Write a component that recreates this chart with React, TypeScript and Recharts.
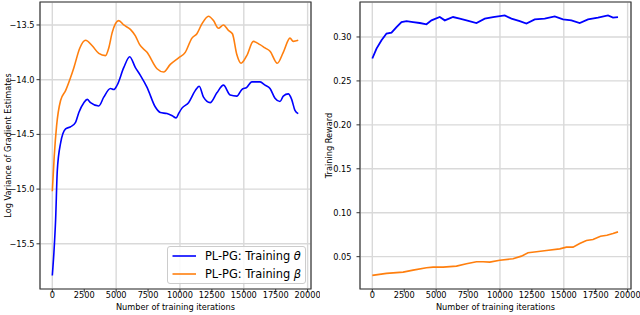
import React from 'react';
import { LineChart, Line, XAxis, YAxis, CartesianGrid, ReferenceArea } from 'recharts';

// left panel: log variance of gradient estimates
const thetaIters = [0, 125, 258, 391, 648, 1039, 1430, 1820, 2078, 2469, 2734, 2992, 3641, 4031, 4555, 4813, 5078, 5594, 6063, 6508, 6898, 7422, 8070, 8461, 8984, 9400, 9700, 9891, 10156, 10672, 11195, 11508, 11844, 12367, 12891, 13406, 13930, 14453, 14844, 15234, 15625, 16273, 16664, 17055, 17445, 17836, 18094, 18484, 18750, 19008, 19266];
const thetaVar = [-15.79, -15.58, -15.28, -14.83, -14.58, -14.45, -14.43, -14.39, -14.30, -14.21, -14.18, -14.21, -14.24, -14.16, -14.08, -14.09, -14.05, -13.89, -13.79, -13.89, -13.96, -14.07, -14.25, -14.30, -14.31, -14.33, -14.35, -14.31, -14.26, -14.21, -14.10, -14.06, -14.16, -14.21, -14.12, -14.05, -14.14, -14.15, -14.09, -14.07, -14.02, -14.02, -14.05, -14.08, -14.17, -14.20, -14.15, -14.13, -14.18, -14.28, -14.31];

const betaIters = [0, 150, 336, 648, 1039, 1430, 1688, 2156, 2602, 3125, 3640, 4164, 4422, 4688, 5203, 5594, 6117, 6508, 6844, 7422, 8203, 8719, 9242, 9891, 10414, 10938, 11328, 11719, 12234, 12625, 13016, 13406, 13797, 14109, 14453, 14789, 15234, 15750, 16273, 16664, 17055, 17625, 18094, 18617, 18875, 19266];
const betaVar = [-15.02, -14.70, -14.42, -14.19, -14.10, -13.98, -13.89, -13.71, -13.64, -13.69, -13.76, -13.78, -13.71, -13.57, -13.46, -13.50, -13.54, -13.60, -13.68, -13.75, -13.90, -13.93, -13.86, -13.80, -13.75, -13.62, -13.58, -13.49, -13.42, -13.46, -13.53, -13.50, -13.55, -13.58, -13.77, -13.85, -13.78, -13.65, -13.68, -13.71, -13.74, -13.85, -13.75, -13.62, -13.65, -13.64];

// right panel: training reward
const thetaRewIters = [0, 329, 720, 1112, 1503, 1895, 2286, 2678, 3195, 3719, 4244, 4635, 5285, 5677, 6327, 6851, 7376, 8159, 8810, 9459, 10375, 10899, 11549, 12074, 12724, 13507, 14290, 14940, 15597, 16247, 16897, 17680, 18463, 18855, 19246];
const thetaReward = [0.2755, 0.2868, 0.2963, 0.3039, 0.3050, 0.3113, 0.3170, 0.3181, 0.3170, 0.3159, 0.3144, 0.3189, 0.3227, 0.3189, 0.3227, 0.3209, 0.3189, 0.3159, 0.3209, 0.3227, 0.3246, 0.3209, 0.3181, 0.3152, 0.3200, 0.3209, 0.3235, 0.3200, 0.3189, 0.3159, 0.3200, 0.3220, 0.3246, 0.3220, 0.3227];

const betaRewIters = [0, 1112, 2412, 3195, 4244, 4760, 5544, 6593, 7376, 8159, 8676, 9200, 9983, 11025, 11682, 12199, 12857, 13640, 14681, 15206, 15722, 16247, 16771, 17288, 17876, 18377, 18855, 19246];
const betaReward = [0.0287, 0.0310, 0.0324, 0.0347, 0.0374, 0.0381, 0.0381, 0.0392, 0.0419, 0.0442, 0.0442, 0.0438, 0.0460, 0.0476, 0.0506, 0.0544, 0.0555, 0.0570, 0.0589, 0.0608, 0.0608, 0.0650, 0.0684, 0.0695, 0.0732, 0.0744, 0.0763, 0.0782];

const xTicks = [0, 2500, 5000, 7500, 10000, 12500, 15000, 17500, 20000];
const varTicks = [-15.5, -15.0, -14.5, -14.0, -13.5];
const rewardTicks = [0.05, 0.1, 0.15, 0.2, 0.25, 0.3];

const X_DOMAIN: [number, number] = [-965, 20265];
const VAR_DOMAIN: [number, number] = [-15.913, -13.29];
const REW_DOMAIN: [number, number] = [0.0132, 0.3398];

const toPoints = (xs: number[], ys: number[]) => xs.map((x, i) => ({ x, y: ys[i] }));

const FONT = '"DejaVu Sans", sans-serif';
const tickStyle = { fontSize: 8.2, fill: '#000', fontFamily: FONT };

function Panel({ series, yDomain, yTicks, yFormat, yLabel, yLabelOffset, yTickMargin }: any) {
  return (
    <LineChart width={320} height={315} margin={{ top: 2, right: 9, bottom: 0, left: 2 }}>
      <CartesianGrid stroke="#d9d9d9" strokeWidth={1.4} />
      <XAxis
        type="number"
        dataKey="x"
        domain={X_DOMAIN}
        ticks={xTicks}
        allowDataOverflow
        axisLine={false}
        tickSize={3.5}
        tickMargin={0}
        tickLine={{ stroke: '#333' }}
        tick={tickStyle}
        height={26}
        label={{ value: 'Number of training iterations', position: 'insideBottom', offset: 5, fontSize: 8.2, fill: '#000', fontFamily: FONT }}
      />
      <YAxis
        type="number"
        domain={yDomain}
        ticks={yTicks}
        allowDataOverflow
        axisLine={false}
        tickSize={3.5}
        tickMargin={yTickMargin}
        tickLine={{ stroke: '#333' }}
        tick={tickStyle}
        tickFormatter={yFormat}
        width={38}
        label={{ value: yLabel, angle: -90, position: 'insideLeft', offset: yLabelOffset, style: { textAnchor: 'middle' }, fontSize: 8.2, fill: '#000', fontFamily: FONT }}
      />
      {series.map((s: any) => (
        <Line
          key={s.name}
          data={s.data}
          dataKey="y"
          name={s.name}
          type={s.curve}
          stroke={s.color}
          strokeWidth={s.width}
          dot={false}
          isAnimationActive={false}
        />
      ))}
      <ReferenceArea x1={X_DOMAIN[0]} x2={X_DOMAIN[1]} y1={yDomain[0]} y2={yDomain[1]} fill="none" stroke="#3a3a3a" strokeWidth={1.2} />
    </LineChart>
  );
}

const legendRow = (color: string, label: string, sym: string, top: number) => (
  <div style={{ position: 'absolute', left: 0, top, height: 18, width: '100%' }}>
    <svg width={30} height={18} style={{ position: 'absolute', left: 0, top: 0 }}>
      <line x1={4.5} x2={28} y1={9} y2={9} stroke={color} strokeWidth={1.6} />
    </svg>
    <span style={{ position: 'absolute', left: 37, top: 1, fontSize: 11.4, lineHeight: '16px', whiteSpace: 'nowrap' }}>
      {label} <i>{sym}</i>
    </span>
  </div>
);

export default function App() {
  return (
    <div style={{ position: 'absolute', left: 0, top: 0, width: 640, height: 315, background: '#fff', fontFamily: FONT }}>
      <div style={{ position: 'absolute', left: 0, top: 0 }}>
        <Panel
          series={[
            { name: 'theta', data: toPoints(thetaIters, thetaVar), color: '#0000ff', width: 1.6, curve: 'monotone' },
            { name: 'beta', data: toPoints(betaIters, betaVar), color: '#ff7f0e', width: 1.6, curve: 'monotone' },
          ]}
          yDomain={VAR_DOMAIN}
          yTicks={varTicks}
          yFormat={(v: number) => (v < 0 ? '\u2212' : '') + Math.abs(v).toFixed(1)}
          yLabel="Log Variance of Gradient Estimates"
          yLabelOffset={6}
          yTickMargin={2}
        />
      </div>
      <div style={{ position: 'absolute', left: 320, top: 0 }}>
        <Panel
          series={[
            { name: 'theta', data: toPoints(thetaRewIters, thetaReward), color: '#0000ff', width: 1.8, curve: 'linear' },
            { name: 'beta', data: toPoints(betaRewIters, betaReward), color: '#ff7f0e', width: 1.6, curve: 'linear' },
          ]}
          yDomain={REW_DOMAIN}
          yTicks={rewardTicks}
          yFormat={(v: number) => v.toFixed(2)}
          yLabel="Training Reward"
          yLabelOffset={7}
          yTickMargin={5}
        />
      </div>
      <div
        style={{
          position: 'absolute', left: 167, top: 246, width: 139, height: 38,
          border: '1px solid #cccccc', borderRadius: 3, background: 'rgba(255,255,255,0.85)', boxSizing: 'border-box',
        }}
      >
        {legendRow('#0000ff', 'PL-PG: Training', 'θ', 0)}
        {legendRow('#ff7f0e', 'PL-PG: Training', 'β', 18)}
      </div>
    </div>
  );
}
